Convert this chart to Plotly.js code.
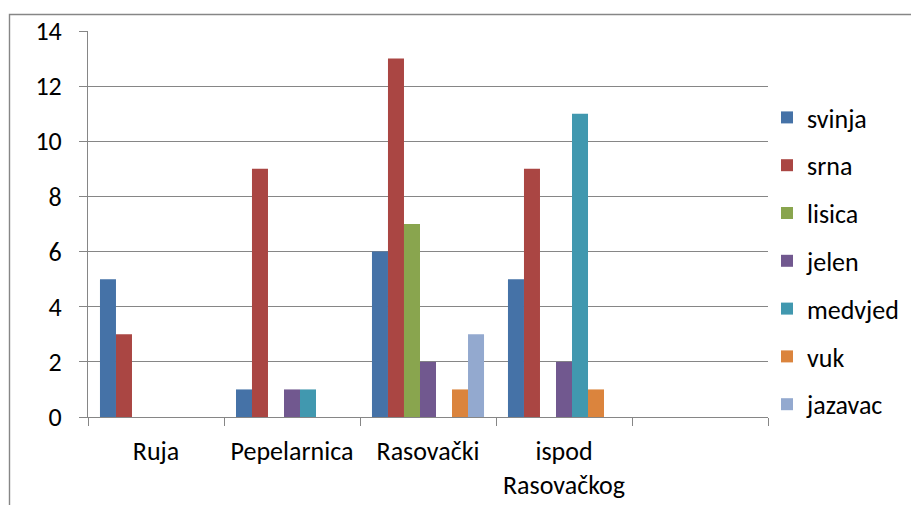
<!DOCTYPE html>
<html>
<head>
<meta charset="utf-8">
<script src="https://cdn.plot.ly/plotly-3.0.1.min.js"></script>
<style>
html,body{margin:0;padding:0;background:#fff;overflow:hidden;width:911px;height:505px;}
#wrap{position:relative;width:911px;height:505px;overflow:hidden;background:#fff;}
#chart{position:absolute;left:0;top:0;width:980px;height:530px;}
</style>
</head>
<body>
<div id="wrap">
<div id="chart"></div>
</div>
<script>
const categories = ['Ruja', 'Pepelarnica', 'Rasovački', 'ispod<br>Rasovačkog', ' '];
const seriesNames = ['svinja', 'srna', 'lisica', 'jelen', 'medvjed', 'vuk', 'jazavac'];
const svinja  = [5, 1, 6, 5, null];
const srna    = [3, 9, 13, 9, null];
const lisica  = [0, 0, 7, 0, null];
const jelen   = [0, 1, 2, 2, null];
const medvjed = [0, 1, 0, 11, null];
const vuk     = [0, 0, 1, 1, null];
const jazavac = [0, 0, 3, 0, null];
const seriesValues = [svinja, srna, lisica, jelen, medvjed, vuk, jazavac];
const colors = ['#4572A7', '#AA4643', '#89A54E', '#71588F', '#4198AF', '#DB843D', '#93A9CF'];
const yTicks = [0, 2, 4, 6, 8, 10, 12, 14];

const FONT = 'Carlito, Calibri, Lato, sans-serif';
const FS = 26;
const traces = seriesNames.map((name, i) => ({
  type: 'bar',
  name: name,
  x: categories,
  y: seriesValues[i],
  marker: {color: colors[i], line: {width: 0}},
  legendgroup: 'g' + i,
  hoverinfo: 'none'
}));

const W = 980, H = 530;
const L = 88, R = 768, T = 31, B = 417;
const pw = R - L, ph = B - T;
const px2x = p => (p - L) / pw;
const px2y = p => (B - p) / ph;

const layout = {
  width: W, height: H,
  margin: {l: L, r: W - R, t: T, b: H - B, pad: 0},
  paper_bgcolor: '#ffffff',
  plot_bgcolor: '#ffffff',
  font: {family: FONT, size: FS, color: '#000000'},
  barmode: 'group',
  bargap: 0.176,
  bargroupgap: 0,
  showlegend: true,
  legend: {
    x: px2x(767), xanchor: 'left',
    y: px2y(94), yanchor: 'top',
    font: {family: FONT, size: FS, color: '#000000'},
    tracegroupgap: 11,
    bgcolor: 'rgba(0,0,0,0)'
  },
  xaxis: {
    type: 'category',
    categoryorder: 'array',
    categoryarray: categories,
    range: [-0.5, 4.5],
    showgrid: false,
    showline: true, linecolor: '#868686', linewidth: 1,
    ticks: 'outside', ticklen: 8, tickcolor: '#868686', tickwidth: 1,
    tickson: 'boundaries',
    ticklabelstandoff: 11,
    tickfont: {family: FONT, size: FS, color: '#000000'},
    zeroline: false,
    fixedrange: true
  },
  yaxis: {
    range: [0, 14],
    tickvals: yTicks,
    ticktext: yTicks.map(String),
    showgrid: true, gridcolor: '#868686', gridwidth: 1,
    showline: true, linecolor: '#868686', linewidth: 1,
    ticks: 'outside', ticklen: 8, tickcolor: '#868686', tickwidth: 1,
    ticklabelstandoff: 12,
    tickfont: {family: FONT, size: FS, color: '#000000'},
    zeroline: false,
    fixedrange: true
  },
  shapes: [{
    type: 'rect', xref: 'paper', yref: 'paper',
    x0: px2x(9.5), x1: px2x(960),
    y0: px2y(525), y1: px2y(14.5),
    line: {color: '#868686', width: 1.4},
    fillcolor: 'rgba(0,0,0,0)',
    layer: 'above'
  }]
};

Plotly.newPlot('chart', traces, layout, {displayModeBar: false, staticPlot: true});
</script>
</body>
</html>
